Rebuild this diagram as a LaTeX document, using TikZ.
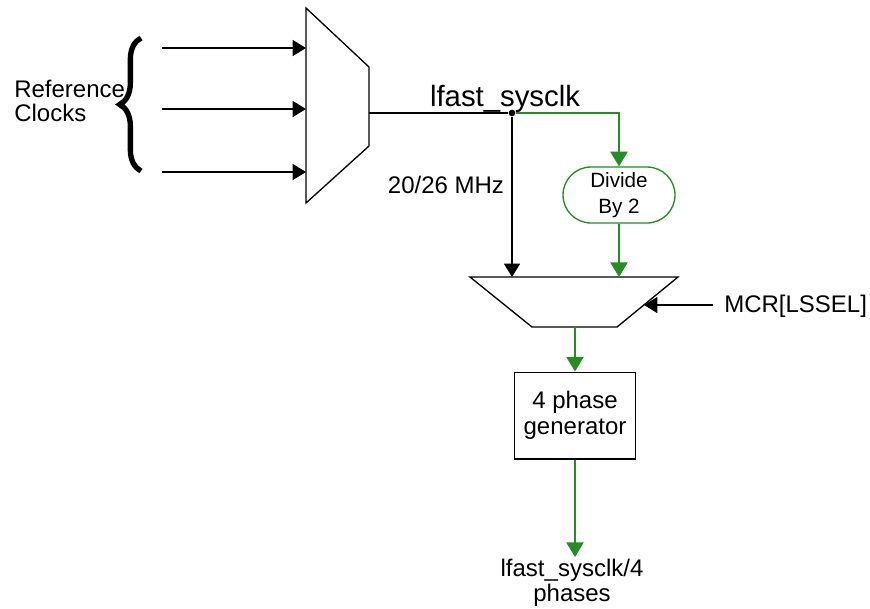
\documentclass[tikz,border=0pt]{standalone}
\usepackage{fontspec}
\setmainfont{Liberation Sans}
\usetikzlibrary{arrows.meta, positioning, decorations.pathreplacing}
\definecolor{clkgreen}{RGB}{38,140,38}

\begin{document}
\begin{tikzpicture}[x=0.75pt, y=-0.75pt,
      txt/.style={inner sep=0pt, align=center, font=\fontsize{18}{18.5}\selectfont},
      mux/.style={draw, line width=1pt, line join=miter, fill=white},
      gen/.style={draw, line width=1pt, fill=white, minimum width=91pt, minimum height=65pt, align=center, font=\fontsize{18}{19.5}\selectfont},
      div/.style={draw=clkgreen, line width=1pt, rounded corners=21pt, fill=white, minimum width=84pt, minimum height=42pt, align=center, font=\fontsize{15.5}{19.5}\selectfont},
      arr/.style={-{Triangle[length=10pt, width=12pt]}, line width=1pt},
      garr/.style={-{Triangle[length=11pt, width=13pt]}, line width=1pt, color=clkgreen}
    ]
      \useasboundingbox (0,0) rectangle (870,608);

      % input mux
      \draw[mux] (306,8) -- (369,67) -- (369,146) -- (306,203) -- cycle;
      \coordinate (in1) at (162,48);
      \coordinate (in2) at (162,109);
      \coordinate (in3) at (162,172);
      \coordinate (m1a) at (306,48);
      \coordinate (m1b) at (306,109);
      \coordinate (m1c) at (306,172);
      \coordinate (m1out) at (369,113);
      \draw[arr] (in1) -- (m1a);
      \draw[arr] (in2) -- (m1b);
      \draw[arr] (in3) -- (m1c);
      \draw[line width=4pt, decorate, decoration={brace, amplitude=16pt}] (141,171) -- (141,38);
      \node[txt, align=left, anchor=west] (refclk) at (14,101) {Reference\\Clocks};

      % second mux
      \draw[mux] (470,277) -- (678,277) -- (617,327) -- (532,327) -- cycle;
      \coordinate (m2a) at (512,277);
      \coordinate (m2b) at (619,277);
      \coordinate (m2sel) at (644,305);
      \coordinate (m2out) at (575,327);
      \coordinate (selin) at (713,305);

      \node[circle, fill, inner sep=0pt, minimum size=5pt] (junc) at (512,113) {};
      \node[div] (div2) at (619,195) {Divide\\By 2};
      \node[gen] (phgen) at (575,415.5) {4 phase\\generator};
      \coordinate (phout) at (575,557);

      \draw[line width=1pt] (m1out) -- (junc);
      \draw[arr] (junc) -- (m2a);
      \draw[garr] (junc) -| (div2.north);
      \draw[garr] (div2) -- (m2b);
      \draw[arr] (selin) -- (m2sel);
      \draw[garr] (m2out) -- (phgen.north);
      \draw[garr] (phgen) -- (phout);

      \node[txt, anchor=base, font=\fontsize{22}{24}\selectfont] (sysclk) at (505,106) {lfast\_sysclk};
      \node[txt, anchor=base] (freq) at (446,193) {20/26 MHz};
      \node[txt, anchor=base west] (lssel) at (724,312) {MCR[LSSEL]};
      \node[txt] (phases) at (572,583) {lfast\_sysclk/4\\phases};
    \end{tikzpicture}
\end{document}
